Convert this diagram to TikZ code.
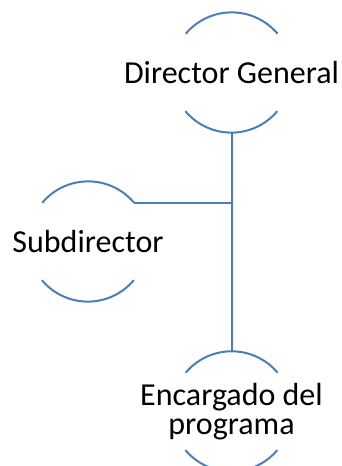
\documentclass[tikz,border=0pt]{standalone}
\usepackage{fontspec}
\setmainfont{Carlito}
\usetikzlibrary{positioning}
\definecolor{lineblue}{RGB}{74,126,187}

\begin{document}
\begin{tikzpicture}[x=1pt, y=1pt,
        ring/.style={circle, minimum size=120pt, inner sep=0pt},
        arcline/.style={draw=lineblue, line width=2pt},
        roletext/.style={font=\fontsize{32}{29}\selectfont, align=center, inner sep=0pt}]
            % Frame
            \useasboundingbox (0,0) rectangle (341,466);

            % Rings
            \node[ring] (dg) at (231.5,393.5) {};
            \node[ring] (sub) at (88,224.5) {};
            \node[ring, below=218.5pt of dg] (enc) {};

            % Texts
            \node[roletext] (dgtext) at (dg) {Director General};
            \node[roletext] (subtext) at (sub) {Subdirector};
            \node[roletext] (enctext) at (enc) {Encargado del\\programa};

            % Arcs of each ring
            \foreach \n in {dg,sub,enc} {
                \draw[arcline] (\n.40) arc[start angle=40, end angle=140, radius=60pt];
                \draw[arcline] (\n.220) arc[start angle=220, end angle=320, radius=60pt];
            }

            % Connections
            \draw[arcline] (dg.south) -- (enc.north);
            \draw[arcline] (sub.40) -- (sub.40 -| dg.south);
\end{tikzpicture}
\end{document}
